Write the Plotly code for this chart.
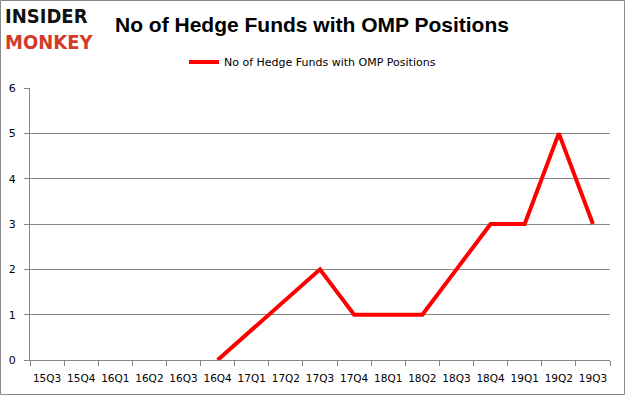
import plotly.graph_objects as go

quarters = ["15Q3", "15Q4", "16Q1", "16Q2", "16Q3", "16Q4", "17Q1", "17Q2", "17Q3",
            "17Q4", "18Q1", "18Q2", "18Q3", "18Q4", "19Q1", "19Q2", "19Q3"]
hedge_funds = [None, None, None, None, None, 0, None, None, 2,
               1, 1, 1, 2, 3, 3, 5, 3]
y_ticks = [0, 1, 2, 3, 4, 5, 6]
series_name = "No of Hedge Funds with OMP Positions"
title_text = "No of Hedge Funds with OMP Positions"

W, H = 625, 395
ML, MR, MT, MB = 30, 15, 88, 35

def px_to_paper(px, py):
    return (px - ML) / (W - ML - MR), (H - MB - py) / (H - MT - MB)

fig = go.Figure()
fig.add_trace(go.Scatter(
    x=quarters, y=hedge_funds, mode="lines", name=series_name,
    connectgaps=True,
    line=dict(color="#ff0000", width=4),
))

axis_gray = "#868686"
fig.update_layout(
    width=W, height=H,
    margin=dict(l=ML, r=MR, t=MT, b=MB, autoexpand=False),
    paper_bgcolor="white", plot_bgcolor="white",
    showlegend=True,
    legend=dict(orientation="h", x=0.5, xanchor="center", y=0.843, yanchor="middle",
                xref="container", yref="container",
                font=dict(family="DejaVu Sans", size=11, color="#000"),
                itemwidth=30),
    font=dict(family="DejaVu Sans", size=10, color="#000"),
    xaxis=dict(type="category", range=[-0.5, 16.5], tickson="boundaries",
               ticks="outside", ticklen=5, tickcolor=axis_gray, tickangle=0,
               ticklabelstandoff=8,
               showline=True, linecolor=axis_gray, linewidth=1,
               showgrid=False, tickfont=dict(family="DejaVu Sans", size=10.5)),
    yaxis=dict(range=[0, 6], tickvals=y_ticks, ticks="outside", ticklen=5,
               ticklabelstandoff=6,
               tickcolor=axis_gray, showline=True, linecolor=axis_gray,
               gridcolor=axis_gray, gridwidth=1, zeroline=False,
               tickfont=dict(family="DejaVu Sans", size=11)),
)

ax, ay = px_to_paper(312, 25)
fig.add_annotation(text="<b>" + title_text + "</b>", xref="paper", yref="paper",
                   x=ax, y=ay, xanchor="center", yanchor="middle",
                   showarrow=False, font=dict(family="Liberation Sans", size=21, color="#000"))
lx, ly = px_to_paper(3, 29)
fig.add_annotation(text="<b>INSIDER</b><br><span style='color:#d23b2b'><b>MONKEY</b></span>",
                   xref="paper", yref="paper", x=lx, y=ly, align="left",
                   xanchor="left", yanchor="middle", showarrow=False,
                   font=dict(family="DejaVu Sans Condensed", size=20, color="#111"))

x0, y0 = px_to_paper(0.5, 394.5)
x1, y1 = px_to_paper(624.5, 0.5)
fig.add_shape(type="rect", xref="paper", yref="paper",
              x0=x0, x1=x1, y0=y0, y1=y1,
              line=dict(color="#8a8a8a", width=1), layer="below")

fig.write_html("out.html", config={"displayModeBar": False},
               post_script="document.body.style.margin='0';document.body.style.padding='0';")
